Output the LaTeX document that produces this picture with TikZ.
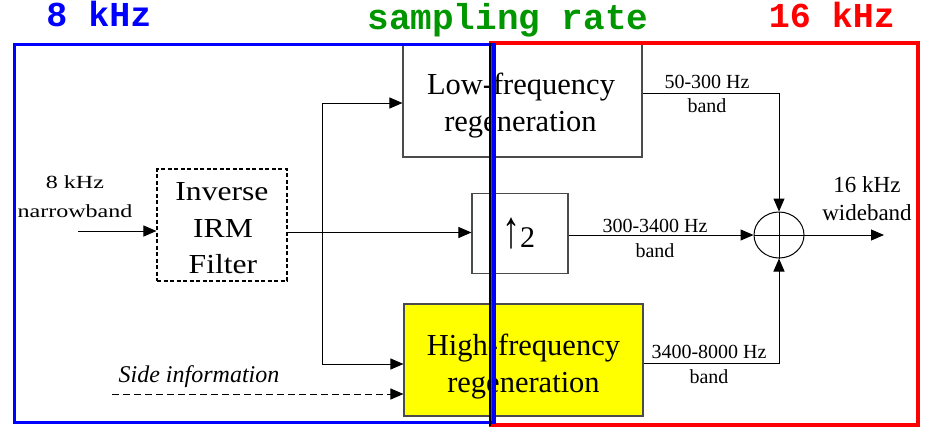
\documentclass[tikz,border=0pt]{standalone}
\usepackage{fontspec}
\setmainfont{Liberation Serif}
\newfontfamily\monofont{Liberation Mono}
\newfontfamily\stretchA{Liberation Serif}[FakeStretch=1.15]
\newfontfamily\stretchB{Liberation Serif}[FakeStretch=1.3]
\usetikzlibrary{arrows.meta,shapes.geometric}
\definecolor{dgreen}{RGB}{0,150,0}
\definecolor{boxgray}{RGB}{75,75,75}
\definecolor{hfyellow}{RGB}{255,255,0}
\begin{document}
\begin{tikzpicture}[x=1pt,y=-1pt,
  arr/.style={-{Triangle[length=13pt,width=11pt]}, line width=1pt},
  blockbox/.style={draw=boxgray, line width=1.1pt, inner sep=0pt},
  titletxt/.style={font=\monofont\bfseries\fontsize{35}{35}\selectfont, inner sep=0pt, anchor=base},
  bigtxt/.style={font=\fontsize{30.5}{30.5}\selectfont, inner sep=0pt, anchor=base},
  irmtxt/.style={font=\stretchA\fontsize{27.5}{27.5}\selectfont, inner sep=0pt, anchor=base},
  smalltxt/.style={font=\fontsize{20}{20}\selectfont, inner sep=0pt, anchor=base},
  midtxt/.style={font=\fontsize{23}{23}\selectfont, inner sep=0pt, anchor=base},
  inptxt/.style={font=\stretchB\fontsize{18.5}{18.5}\selectfont, inner sep=0pt, anchor=base}
]
\useasboundingbox (0,0) rectangle (929,432);

% titles
\node[titletxt, text=blue] (t8) at (99,26) {8 kHz};
\node[titletxt, text=dgreen, font=\monofont\bfseries\fontsize{36}{36}\selectfont] (tsr) at (508,29) {sampling rate};
\node[titletxt, text=red] (t16) at (832,27) {16 kHz};

% blocks
\node[blockbox, minimum width=239pt, minimum height=113pt] (lf) at (522.5,100.5) {};
\node[blockbox, minimum width=96pt, minimum height=80pt] (up2) at (520,233.5) {};
\node[draw=black, line width=1.1pt, dash pattern=on 4pt off 2.5pt, inner sep=0pt,
      minimum width=130pt, minimum height=112pt] (irm) at (222,225) {};
\node[blockbox, fill=hfyellow, minimum width=239pt, minimum height=112pt] (hf) at (523.5,360) {};
\node[draw=black, line width=1pt, ellipse, minimum width=50pt, minimum height=46pt, inner sep=0pt] (sum) at (779,235) {};
\draw[line width=1pt] (sum.north) -- (sum.south);
\draw[line width=1pt] (sum.west) -- (sum.east);

% block texts
\node[bigtxt] (lft1) at (521,94) {Low-frequency};
\node[bigtxt] (lft2) at (520.5,131) {regeneration};
\node[bigtxt] (hft1) at (523.5,355) {High-frequency};
\node[bigtxt] (hft2) at (523.5,392) {regeneration};
\node[irmtxt] (irm1) at (222,200) {Inverse};
\node[irmtxt] (irm2) at (223,237) {IRM};
\node[irmtxt] (irm3) at (223,273) {Filter};
\node[inner sep=0pt, anchor=base] (up2t) at (518.5,247)
  {\fontsize{30}{30}\selectfont\scalebox{1.2}[1.75]{↑}2};

% labels
\node[inptxt] (l8a) at (75,188) {8 kHz};
\node[inptxt] (l8b) at (75,217) {narrowband};
\node[midtxt] (l16a) at (867,192) {16 kHz};
\node[midtxt] (l16b) at (867,220) {wideband};
\node[smalltxt] (llfa) at (707,88) {50-300 Hz};
\node[smalltxt] (llfb) at (707,112) {band};
\node[smalltxt] (lmda) at (655,232) {300-3400 Hz};
\node[smalltxt] (lmdb) at (655,257) {band};
\node[smalltxt] (lhfa) at (709,358) {3400-8000 Hz};
\node[smalltxt] (lhfb) at (709,383) {band};
\node[font=\itshape\fontsize{24}{24}\selectfont, inner sep=0pt, anchor=base] (lside) at (199,382) {Side information};

% connectors
\coordinate (inL) at (78,231);
\draw[arr] (inL) -- (inL -| irm.west);
\coordinate (irmo) at (287,232.5);
\draw[arr] (irmo) -- (irmo -| up2.west);
\coordinate (bt) at (322,103);
\coordinate (bb) at (322,364);
\draw[line width=1pt, {Triangle[length=13pt,width=11pt]}-{Triangle[length=13pt,width=11pt]}]
  (bt -| lf.west) -- (bt) -- (bb) -- (bb -| hf.west);
\coordinate (side) at (112,394);
\draw[arr, dash pattern=on 7pt off 4pt] (side) -- (side -| hf.west);
\coordinate (lfo) at (779,93);
\draw[arr] (lfo -| lf.east) -- (lfo) -- (sum.north);
\draw[arr] (up2.east |- sum.west) -- (sum.west);
\coordinate (hfo) at (779,363);
\draw[arr] (hfo -| hf.east) -- (hfo) -- (sum.south);
\coordinate (outR) at (884,235);
\draw[arr] (sum.east) -- (outR);

% sampling-rate regions
\draw[red, line width=4pt] (491,43) rectangle (918,425);
\draw[blue, line width=3.5pt] (14.5,44.5) rectangle (494,422.5);
\coordinate (sepT) at (490,43);
\coordinate (sepB) at (490,426);
\draw[black, line width=1.6pt] (sepT) -- (sepB);
\end{tikzpicture}
\end{document}
